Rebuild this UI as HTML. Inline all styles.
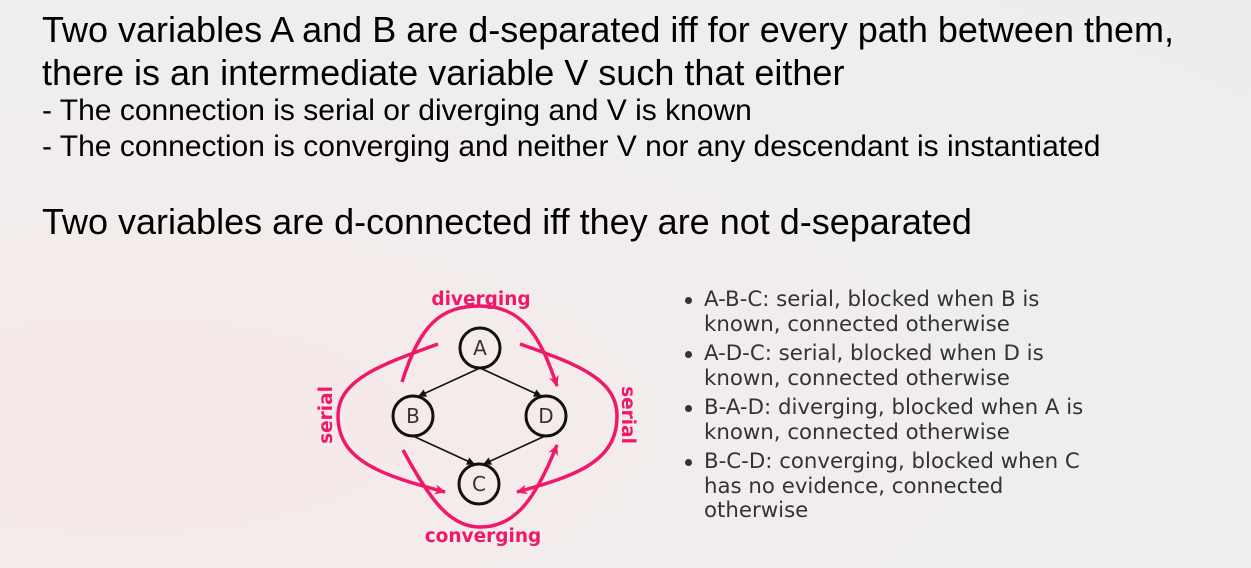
<!DOCTYPE html>
<html><head><meta charset="utf-8"><style>
body{margin:0;width:1251px;height:568px;overflow:hidden;background:radial-gradient(ellipse at 10% 75%,#f7e9e7 0%,#f1eded 45%,#eeeded 100%);font-family:"Liberation Sans",sans-serif;position:relative;color:#000}
.t{position:absolute;white-space:nowrap;line-height:1}
.h{font-size:36px;left:42px}
.s{font-size:30px;left:42px}
.r{font-family:"DejaVu Sans",sans-serif;font-size:21.3px;color:#333;left:704px}
.b{position:absolute;left:685px;width:7px;height:7px;border-radius:50%;background:#333}
</style></head><body>
<div class="t h" style="top:12px">Two variables A and B are d-separated iff for every path between them,</div>
<div class="t h" style="top:55px">there is an intermediate variable V such that either</div>
<div class="t s" style="top:96px">- The connection is serial or diverging and V is known</div>
<div class="t s" style="top:132px">- The connection is converging and neither V nor any descendant is instantiated</div>
<div class="t h" style="top:204px">Two variables are d-connected iff they are not d-separated</div>

<div class="b" style="top:297px"></div><div class="t r" style="top:289px">A-B-C: serial, blocked when B is</div>
<div class="t r" style="top:314px">known, connected otherwise</div>
<div class="b" style="top:351px"></div><div class="t r" style="top:343px">A-D-C: serial, blocked when D is</div>
<div class="t r" style="top:368px">known, connected otherwise</div>
<div class="b" style="top:405px"></div><div class="t r" style="top:397px">B-A-D: diverging, blocked when A is</div>
<div class="t r" style="top:422px">known, connected otherwise</div>
<div class="b" style="top:459px"></div><div class="t r" style="top:451px">B-C-D: converging, blocked when C</div>
<div class="t r" style="top:476px">has no evidence, connected</div>
<div class="t r" style="top:500px">otherwise</div>

<svg width="1251" height="568" style="position:absolute;left:0;top:0">
<defs>
<marker id="k" markerWidth="8" markerHeight="8" refX="7" refY="4" orient="auto" markerUnits="userSpaceOnUse"><path d="M0,0 L8,4 L0,8 z" fill="#111"/></marker>
<marker id="p" markerWidth="12" markerHeight="12" refX="10" refY="6" orient="auto" markerUnits="userSpaceOnUse"><path d="M0,1 L11,6 L0,11 L3,6 z" fill="#f0186a"/></marker>
</defs>
<g fill="none" stroke="#f0186a" stroke-width="3.5" marker-end="url(#p)">
<path d="M402,382 C420,325 440,306 480,306 C522,306 540,335 557,386"/>
<path d="M438,344 C380,365 338,380 338,416 C338,460 380,475 445,492"/>
<path d="M520,344 C580,365 617,380 617,416 C617,460 580,475 517,492"/>
<path d="M403,450 C430,500 450,527 480,527 C515,527 535,500 557,445"/>
</g>
<g stroke="#111" stroke-width="1.6" marker-end="url(#k)">
<line x1="480" y1="368" x2="419" y2="396"/>
<line x1="480" y1="368" x2="541" y2="396"/>
<line x1="413" y1="436" x2="474" y2="464"/>
<line x1="545" y1="436" x2="484" y2="464"/>
</g>
<g fill="none" stroke="#111" stroke-width="3">
<circle cx="480" cy="348" r="20"/><circle cx="413" cy="416" r="20"/>
<circle cx="546" cy="416" r="20"/><circle cx="479" cy="484" r="20"/>
</g>
<g font-family="DejaVu Sans,sans-serif" font-size="20" fill="#333" text-anchor="middle">
<text x="480" y="355">A</text><text x="413" y="423">B</text><text x="546" y="423">D</text><text x="479" y="491">C</text>
</g>
<g font-family="DejaVu Sans,sans-serif" font-size="18.5" font-weight="bold" fill="#f0186a" text-anchor="middle">
<text x="481" y="305">diverging</text>
<text x="483" y="542">converging</text>
<text transform="translate(332,415) rotate(-90)">serial</text>
<text transform="translate(622,415) rotate(90)">serial</text>
</g>
</svg>
</body></html>
